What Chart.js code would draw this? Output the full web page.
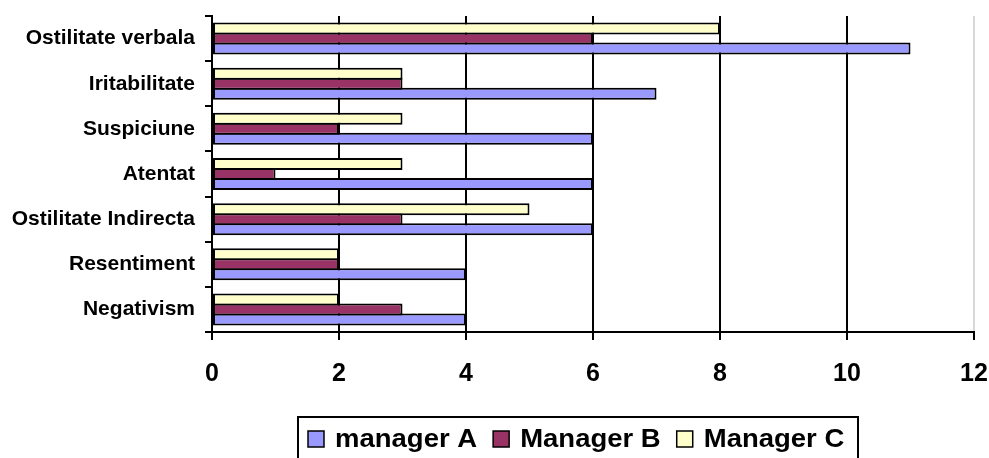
<!DOCTYPE html>
<html>
<head>
<meta charset="utf-8">
<script src="https://cdn.jsdelivr.net/npm/chart.js@4/dist/chart.umd.min.js"></script>
<style>
  html, body { margin: 0; padding: 0; background: #ffffff; }
  #wrap { width: 989px; height: 458px; }
</style>
</head>
<body>
<div id="wrap"><canvas id="c" width="989" height="458"></canvas></div>
<script>
const categories = ['Ostilitate verbala', 'Iritabilitate', 'Suspiciune', 'Atentat', 'Ostilitate Indirecta', 'Resentiment', 'Negativism'];
const managerA = [11, 7, 6, 6, 6, 4, 4];
const managerB = [6, 3, 2, 1, 3, 2, 3];
const managerC = [8, 3, 3, 3, 5, 2, 2];
const seriesNames = ['manager A', 'Manager B', 'Manager C'];
const xMin = 0, xMax = 12, xStep = 2;

const FONT = "'Liberation Sans', Arial, sans-serif";
const colA = '#9999FF', colB = '#993366', colC = '#FFFFCC';

const legendPlugin = {
  id: 'boxLegend',
  afterDraw(chart) {
    const ctx = chart.ctx;
    ctx.save();
    ctx.strokeStyle = '#000';
    ctx.lineWidth = 2;
    ctx.strokeRect(298, 417, 560, 60);
    const items = chart.data.datasets.slice().reverse();
    ctx.font = 'bold 25px ' + FONT;
    ctx.textBaseline = 'middle';
    ctx.textAlign = 'left';
    const stretch = 1.1;
    let x = 308;
    const cy = 439;
    items.forEach(ds => {
      ctx.fillStyle = ds.backgroundColor;
      ctx.fillRect(x, cy - 8, 16, 16);
      ctx.lineWidth = 1.5;
      ctx.strokeStyle = '#000';
      ctx.strokeRect(x, cy - 8, 16, 16);
      const tx = x + 27;
      ctx.save();
      ctx.translate(tx, cy + 1);
      ctx.scale(stretch, 1);
      ctx.fillStyle = '#000';
      ctx.fillText(ds.label, 0, 0);
      ctx.restore();
      const w = ctx.measureText(ds.label).width * stretch;
      x = tx + w + 16;
    });
    ctx.restore();
  }
};

new Chart(document.getElementById('c'), {
  type: 'bar',
  data: {
    labels: categories,
    datasets: [
      { label: seriesNames[2], data: managerC, backgroundColor: colC, borderColor: '#000', borderWidth: 2, borderSkipped: false },
      { label: seriesNames[1], data: managerB, backgroundColor: colB, borderColor: '#000', borderWidth: 2, borderSkipped: false },
      { label: seriesNames[0], data: managerA, backgroundColor: colA, borderColor: '#000', borderWidth: 2, borderSkipped: false }
    ]
  },
  options: {
    indexAxis: 'y',
    responsive: false,
    devicePixelRatio: 1,
    animation: false,
    categoryPercentage: 0.665,
    barPercentage: 1.2,
    layout: { padding: { left: 0, right: 15, top: 16, bottom: 66 } },
    plugins: {
      legend: { display: false },
      tooltip: { enabled: false }
    },
    scales: {
      x: {
        min: xMin, max: xMax,
        afterFit(scale) {
          scale.height = 60;
          scale.paddingLeft = 0; scale.paddingRight = 0;
          scale.paddingTop = 0; scale.paddingBottom = 0;
        },
        ticks: { stepSize: xStep, color: '#000', padding: 19, font: { family: FONT, size: 25, weight: 'bold' } },
        grid: {
          color: ctx => (ctx.tick && ctx.tick.value === xMax) ? '#d9d9d9' : '#000',
          lineWidth: 2,
          tickColor: '#000',
          tickLength: 8
        },
        border: { display: true, color: '#000', width: 2 }
      },
      y: {
        afterFit(scale) {
          scale.width = 212;
          scale.paddingLeft = 0; scale.paddingRight = 0;
          scale.paddingTop = 0; scale.paddingBottom = 0;
        },
        ticks: { color: '#000', padding: 10, font: { family: FONT, size: 21, weight: 'bold' } },
        grid: {
          drawOnChartArea: false,
          drawTicks: true,
          tickLength: 7,
          tickColor: '#000',
          lineWidth: 2,
          offset: true
        },
        border: { display: true, color: '#000', width: 2 }
      }
    }
  },
  plugins: [legendPlugin]
});
</script>
</body>
</html>
